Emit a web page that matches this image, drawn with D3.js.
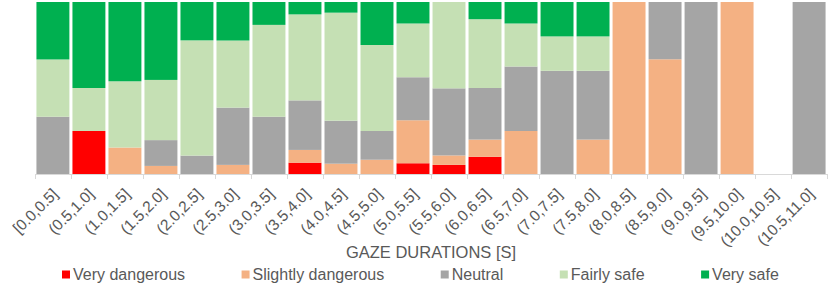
<!DOCTYPE html>
<html>
<head>
<meta charset="utf-8">
<script src="https://cdn.jsdelivr.net/npm/d3@7"></script>
<style>
body{margin:0;background:#fff;}
text{font-family:"Liberation Sans",Arial,sans-serif;fill:#595959;}
</style>
</head>
<body>
<div id="chart"></div>
<script>
//////////////////////データ//////////////////////
var categories=["[0.0,0.5]","(0.5,1.0]","(1.0,1.5]","(1.5,2.0]","(2.0,2.5]","(2.5,3.0]","(3.0,3.5]","(3.5,4.0]","(4.0,4.5]","(4.5,5.0]","(5.0,5.5]","(5.5,6.0]","(6.0,6.5]","(6.5,7.0]","(7.0,7.5]","(7.5,8.0]","(8.0,8.5]","(8.5,9.0]","(9.0,9.5]","(9.5,10.0]","(10.0,10.5]","(10.5,11.0]"];
var seriesNames=["Very dangerous","Slightly dangerous","Neutral","Fairly safe","Very safe"];
//各系列（%）
var veryDangerous    =[0,25,0,0,0,0,0,6.6,0,0,6.25,5.3,10,0,0,0,0,0,0,0,0,0];
var slightlyDangerous=[0,0,15.4,4.7,0,5.3,0,7.4,6,8.3,25,5.5,10,25,0,20,100,66.7,0,100,0,0];
var neutral          =[33.3,0,0,15,10.7,33.3,33.3,28.8,25,16.7,25,39,30,37.5,60,40,0,33.3,100,0,0,100];
var fairlySafe       =[33.3,25,38.5,35,67,39,53.4,50,62.8,50,31.25,50.2,40,25,20,20,0,0,0,0,0,0];
var verySafe         =[33.4,50,46.1,45.3,22.3,22.4,13.3,7.2,6.2,25,12.5,0,10,12.5,20,20,0,0,0,0,0,0];
var xTitle="GAZE DURATIONS [S]";
//色
var colors=["#FF0000","#F4B183","#A5A5A5","#C5E0B4","#00B050"];

var W=831,H=284;
var x_min=35,x_max=827,y_top=2,y_bottom=174;

var rows=categories.map(function(c,i){
    return {cat:c,s0:veryDangerous[i],s1:slightlyDangerous[i],s2:neutral[i],s3:fairlySafe[i],s4:verySafe[i]};
});
var keys=["s0","s1","s2","s3","s4"];
var stacked=d3.stack().keys(keys)(rows);

var svg=d3.select("#chart").append("svg").attr("width",W).attr("height",H);

var xScale=d3.scaleBand().domain(categories).range([x_min,x_max]).paddingInner(0.085).paddingOuter(0.04);
var yScale=d3.scaleLinear().domain([0,100]).range([y_bottom,y_top]);

//棒
svg.append("g").selectAll("g")
.data(stacked)
.enter()
.append("g")
.attr("fill",function(d,i){return colors[i];})
.selectAll("rect")
.data(function(d){return d;})
.enter()
.append("rect")
.attr("x",function(d){return xScale(d.data.cat);})
.attr("y",function(d){return yScale(d[1]);})
.attr("width",xScale.bandwidth())
.attr("height",function(d){return yScale(d[0])-yScale(d[1]);});

//x軸
var step=(x_max-x_min)/categories.length;
var ax=svg.append("g");
ax.append("line").attr("x1",x_min).attr("x2",x_max).attr("y1",y_bottom+0.5).attr("y2",y_bottom+0.5)
.attr("stroke","#D9D9D9").attr("stroke-width",1);
d3.range(categories.length+1).forEach(function(i){
    var xx=Math.round(x_min+i*step)+0.5;
    ax.append("line").attr("x1",xx).attr("x2",xx).attr("y1",y_bottom).attr("y2",y_bottom+5)
    .attr("stroke","#D9D9D9").attr("stroke-width",1);
});
ax.selectAll("text.tick")
.data(categories)
.enter()
.append("text")
.attr("class","tick")
.attr("text-anchor","end")
.attr("font-size","15.5px")
.attr("transform",function(d){
    var cx=xScale(d)+xScale.bandwidth()/2+6;
    return "translate("+cx+","+(y_bottom+21)+") rotate(-45)";
})
.text(function(d){return d;});

svg.append("text")
.attr("x",(x_min+x_max)/2)
.attr("y",258)
.attr("text-anchor","middle")
.attr("font-size","16.5px")
.text(xTitle);

//凡例
var lx=62;
seriesNames.forEach(function(name,i){
    svg.append("rect").attr("x",lx).attr("y",270.5).attr("width",8).attr("height",8).attr("fill",colors[i]);
    var t=svg.append("text").attr("x",lx+11).attr("y",280).attr("font-size","16px").text(name);
    lx+=11+t.node().getComputedTextLength()+56.5;
});
</script>
</body>
</html>
